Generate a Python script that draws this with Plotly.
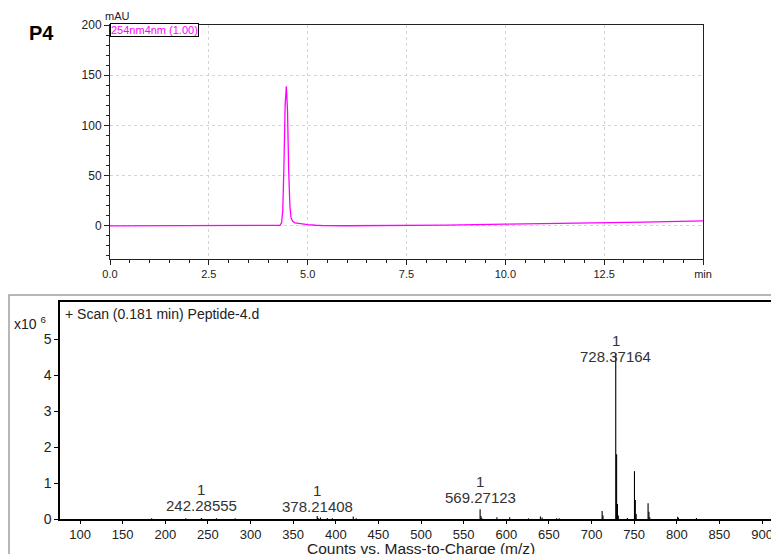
import plotly.graph_objects as go

W, H = 779, 554

# ---------------- data ----------------
# UV chromatogram (254 nm)
rt_min = [0.0, 1.0, 2.0, 3.0, 4.0, 4.2, 4.30, 4.34, 4.37, 4.40, 4.43, 4.46, 4.49, 4.52,
          4.55, 4.58, 4.62, 4.68, 4.80, 5.00, 5.20, 5.40, 6.0, 7.0, 7.5, 8.5, 10.0,
          11.0, 12.5, 13.5, 15.0]
abs_mau = [0.0, 0.0, 0.0, 0.0, 0.0, 0.1, 0.5, 3.0, 15.0, 60.0, 120.0, 139.0, 115.0, 55.0,
           20.0, 8.0, 4.5, 3.0, 2.2, 1.2, 0.6, 0.2, 0.1, 0.2, 0.3, 0.8, 1.7,
           2.2, 3.0, 3.8, 5.0]

# Mass spectrum (counts x 10^6)
mz = [184.0, 224.0, 242.28555, 243.3, 260.0, 282.0, 378.21408, 379.2, 382.0, 390.0,
      396.0, 420.5, 424.0, 569.27123, 570.27, 571.3, 589.0, 604.0, 626.0, 640.0,
      642.0, 659.0, 662.0, 712.4, 713.4, 728.37164, 729.37, 730.37, 731.37, 742.0,
      750.35, 751.35, 752.35, 766.3, 767.3, 768.3, 801.0, 802.0, 823.0]
counts_e6 = [0.02, 0.02, 0.03, 0.01, 0.02, 0.02, 0.08, 0.03, 0.04, 0.03,
             0.02, 0.07, 0.02, 0.27, 0.08, 0.03, 0.05, 0.05, 0.02, 0.07,
             0.04, 0.02, 0.02, 0.22, 0.10, 4.60, 1.80, 0.42, 0.10, 0.03,
             1.33, 0.53, 0.14, 0.44, 0.20, 0.05, 0.06, 0.03, 0.03]

label_mz = [242.28555, 378.21408, 569.27123, 728.37164]
label_counts = [0.03, 0.08, 0.27, 4.60]
label_charge = ["1", "1", "1", "1"]

rt_ticks = [0.0, 2.5, 5.0, 7.5, 10.0, 12.5, 15.0]
rt_ticktext = ["0.0", "2.5", "5.0", "7.5", "10.0", "12.5", "min"]
mz_ticks = list(range(100, 901, 50))

# ---------------- helpers ----------------
# the page places the figure 8 px from the top-left corner (default body margin)
OFF = 8

def px(x):
    return (x - OFF) / W

def py(y):
    return 1 - (y - OFF) / H

FONT = "Liberation Sans, Arial, sans-serif"
MAG = "#ff00ff"

fig = go.Figure()

# chromatogram
fig.add_trace(go.Scatter(x=rt_min, y=abs_mau, mode="lines",
                         line=dict(color=MAG, width=1.3), xaxis="x", yaxis="y",
                         showlegend=False, hoverinfo="skip"))

# stick spectrum
sx, sy = [], []
for m, c in zip(mz, counts_e6):
    sx += [m, m, None]
    sy += [0, c, None]
fig.add_trace(go.Scatter(x=sx, y=sy, mode="lines",
                         line=dict(color="black", width=1.1), xaxis="x2", yaxis="y2",
                         showlegend=False, hoverinfo="skip"))

fig.update_layout(
    width=W, height=H,
    margin=dict(l=0, r=0, t=0, b=0, autoexpand=False),
    paper_bgcolor="white", plot_bgcolor="white",
    font=dict(family=FONT, color="#222"),
    xaxis=dict(domain=[px(110), px(703)], range=[0, 15], anchor="y", automargin=False,
               tickvals=rt_ticks, ticktext=rt_ticktext,
               ticks="outside", ticklen=5, tickcolor="#222",
               minor=dict(dtick=0.5, ticks="outside", ticklen=3, tickcolor="#222", showgrid=False),
               showgrid=True, gridcolor="#d4d4d4", griddash="dot", gridwidth=1,
               showline=True, linecolor="#222", linewidth=1, mirror=True,
               tickfont=dict(size=11, color="#222"), zeroline=False),
    yaxis=dict(domain=[py(259), py(25)], range=[-33, 200], anchor="x", automargin=False,
               tickvals=[0, 50, 100, 150, 200],
               ticks="outside", ticklen=5, tickcolor="#222",
               minor=dict(dtick=10, ticks="outside", ticklen=3, tickcolor="#222", showgrid=False),
               showgrid=True, gridcolor="#d4d4d4", griddash="dot", gridwidth=1,
               showline=True, linecolor="#222", linewidth=1, mirror=True,
               tickfont=dict(size=12, color="#222"), zeroline=False),
    xaxis2=dict(domain=[px(60), px(774)], range=[76.5, 914], anchor="y2", automargin=False,
                tickvals=mz_ticks, ticks="outside", ticklen=3, tickcolor="black",
                showgrid=False, zeroline=False,
                showline=True, linecolor="black", linewidth=1.5, mirror=True,
                tickfont=dict(size=13, color="#222")),
    yaxis2=dict(domain=[py(519), py(302)], range=[0, 6.03], anchor="x2", automargin=False,
                tickvals=[0, 1, 2, 3, 4, 5], ticks="outside", ticklen=4, tickcolor="black",
                showgrid=False, zeroline=False,
                showline=True, linecolor="black", linewidth=1.5, mirror=True,
                tickfont=dict(size=14, color="#222")),
)

def paper_text(text, x, y, size, color="#222", xanchor="center", **kw):
    return dict(text=text, x=px(x), y=py(y), xref="paper", yref="paper",
                xanchor=xanchor, yanchor="middle", showarrow=False,
                font=dict(size=size, color=color, family=FONT), **kw)

ann = []
ann.append(paper_text("<b>P4</b>", 41, 33, 20, color="black"))
ann.append(paper_text("mAU", 103, 16, 11, xanchor="left"))
ann.append(dict(text="254nm4nm (1.00)", x=px(110), y=py(23), xref="paper", yref="paper",
                xanchor="left", yanchor="top", showarrow=False,
                font=dict(size=11, color=MAG, family=FONT), bordercolor="black", borderwidth=1,
                borderpad=0, bgcolor="white"))
ann.append(paper_text("x10 <sup>6</sup>", 12, 323, 14, xanchor="left"))
ann.append(paper_text("+ Scan (0.181 min) Peptide-4.d", 63, 314, 14, xanchor="left"))
ann.append(paper_text("Counts vs. Mass-to-Charge (m/z)", 421, 548, 15.5))

# peak labels: mass label centre sits this many px above the peak top
mass_shift = [12, 10, 12, -3]
for m, c, z, s in zip(label_mz, label_counts, label_charge, mass_shift):
    ann.append(dict(text=f"{m:.5f}", x=m, y=c, xref="x2", yref="y2",
                    yanchor="middle", yshift=s, showarrow=False,
                    font=dict(size=15, color="#333", family=FONT)))
    ann.append(dict(text=z, x=m, y=c, xref="x2", yref="y2",
                    yanchor="middle", yshift=s + 16, showarrow=False,
                    font=dict(size=15, color="#333", family=FONT)))
fig.update_layout(annotations=ann)

# outer grey frame around the MS panel
fig.add_shape(type="rect", xref="paper", yref="paper",
              x0=px(9), x1=px(800), y0=py(580), y1=py(295),
              line=dict(color="#a0a0a0", width=1.5), fillcolor="rgba(0,0,0,0)", layer="below")

fig.write_html("out.html")
